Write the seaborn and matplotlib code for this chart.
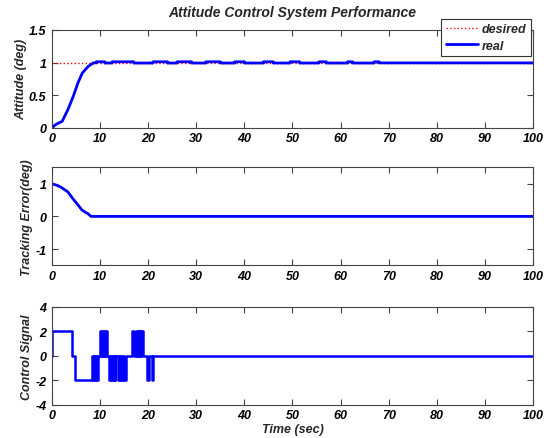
import matplotlib
matplotlib.use("Agg")
import matplotlib.pyplot as plt
import seaborn as sns
import pandas as pd
from matplotlib.ticker import FormatStrFormatter, MultipleLocator

# ---------------- data ----------------
desired_t = [0, 100]
desired_v = [1, 1]

att_t = [0, 0.7, 1.5, 2.1, 3.3, 4.4, 5.4, 6.3, 7.5, 8.6, 9.2, 9.2,
         11, 11, 12.5, 12.5, 17, 17, 21, 21, 24, 24, 26, 26, 29, 29,
         32, 32, 35, 35, 38, 38, 40, 40, 44, 44, 46, 46, 49.5, 49.5,
         51.5, 51.5, 55.5, 55.5, 57, 57, 61.5, 61.5, 62.5, 62.5, 67, 67,
         68, 68, 100]
att_v = [0, 0.05, 0.08, 0.1, 0.28, 0.48, 0.69, 0.84, 0.94, 0.995, 0.995, 1.012,
         1.012, 0.993, 0.993, 1.012, 1.012, 0.993, 0.993, 1.012, 1.012, 0.993, 0.993, 1.012, 1.012, 0.993,
         0.993, 1.012, 1.012, 0.993, 0.993, 1.012, 1.012, 0.993, 0.993, 1.012, 1.012, 0.993, 0.993, 1.012,
         1.012, 0.993, 0.993, 1.012, 1.012, 0.993, 0.993, 1.012, 1.012, 0.993, 0.993, 1.012,
         1.012, 0.995, 0.995]

err_t = [0, 0.8, 1.8, 3.3, 4.3, 5.4, 6.2, 6.9, 7.5, 8.1, 100]
err_v = [1.0, 0.96, 0.9, 0.75, 0.55, 0.35, 0.2, 0.13, 0.08, 0.0, 0.0]

ctrl_t = [0, 0.02, 4.15, 4.7,
          8.4, 8.6, 8.8, 9.0, 9.2, 9.4, 9.6,
          10.0, 10.2, 10.4, 10.6, 10.8, 11.0, 11.2, 11.4,
          11.9, 12.1, 12.3, 12.5, 12.7, 12.9, 13.0, 13.1,
          13.8, 14.0, 14.2, 14.4, 14.6, 14.8, 15.0, 15.4,
          16.6, 17.0,
          17.4, 17.6, 17.8, 18.0, 18.2, 18.4, 18.6, 18.85,
          19.8, 20.2, 20.7, 21.1, 100]
ctrl_v = [0, 2, 0, -2,
          0, -2, 0, -2, 0, -2, 0,
          2, 0, 2, 0, 2, 0, 2, 0,
          -2, 0, -2, 0, -2, 0, -2, 0,
          -2, 0, -2, 0, -2, 0, -2, 0,
          2, 0,
          2, 0, 2, 0, 2, 0, 2, 0,
          -2, 0, -2, 0, 0]

x_ticks = [0, 10, 20, 30, 40, 50, 60, 70, 80, 90, 100]

# ---------------- style ----------------
sns.set_style("ticks")
plt.rcParams["font.family"] = ["Liberation Sans", "DejaVu Sans"]
plt.rcParams["font.weight"] = "bold"
plt.rcParams["font.style"] = "italic"
plt.rcParams["font.size"] = 9
plt.rcParams["axes.labelweight"] = "bold"
plt.rcParams["axes.titleweight"] = "bold"
plt.rcParams["xtick.direction"] = "in"
plt.rcParams["ytick.direction"] = "in"
plt.rcParams["xtick.top"] = True
plt.rcParams["ytick.right"] = True
plt.rcParams["xtick.major.size"] = 4
plt.rcParams["ytick.major.size"] = 4
plt.rcParams["axes.linewidth"] = 0.8
plt.rcParams["axes.edgecolor"] = "#444444"
plt.rcParams["xtick.color"] = "#444444"
plt.rcParams["ytick.color"] = "#444444"
plt.rcParams["xtick.labelcolor"] = "black"
plt.rcParams["ytick.labelcolor"] = "black"

fig = plt.figure(figsize=(5.48, 4.39), dpi=100, facecolor="white")
L, W, H = 0.0949, 0.8777, 0.2235
ax1 = fig.add_axes([L, 0.7062, W, H])
ax2 = fig.add_axes([L, 0.3930, W, H])
ax3 = fig.add_axes([L, 0.0752, W, H])

blue = "#0000ff"
df_des = pd.DataFrame({"t": desired_t, "v": desired_v})
df_att = pd.DataFrame({"t": att_t, "v": att_v})
df_err = pd.DataFrame({"t": err_t, "v": err_v})
df_ctl = pd.DataFrame({"t": ctrl_t, "v": ctrl_v})

sns.lineplot(data=df_des, x="t", y="v", ax=ax1, color="red", linestyle=":",
             linewidth=1.0, estimator=None, sort=False, label="desired")
sns.lineplot(data=df_att, x="t", y="v", ax=ax1, color=blue, linewidth=2.0,
             estimator=None, sort=False, label="real")
sns.lineplot(data=df_err, x="t", y="v", ax=ax2, color=blue, linewidth=2.0,
             estimator=None, sort=False)
sns.lineplot(data=df_ctl, x="t", y="v", ax=ax3, color=blue, linewidth=1.8,
             estimator=None, sort=False, drawstyle="steps-post")

for ax in (ax1, ax2, ax3):
    ax.set_xlim(0, 100)
    ax.set_xticks(x_ticks)
    ax.set_xlabel("")
    ax.tick_params(axis="y", pad=4, labelsize=9, width=0.8)
    ax.tick_params(axis="x", pad=3, labelsize=9, width=0.8)
    for lab in ax.get_xticklabels() + ax.get_yticklabels():
        lab.set_fontweight("bold")
        lab.set_fontstyle("italic")
    ax.yaxis.set_major_formatter(FormatStrFormatter("%g"))

ax1.set_ylim(0, 1.5)
ax1.yaxis.set_major_locator(MultipleLocator(0.5))
ax2.set_ylim(-1.5, 1.5)
ax2.set_yticks([-1, 0, 1])
ax3.set_ylim(-4, 4)
ax3.set_yticks([-4, -2, 0, 2, 4])

ax1.set_ylabel("Attitude (deg)", fontsize=9, labelpad=1)
ax2.set_ylabel("Tracking Error(deg)", fontsize=9, labelpad=2)
ax3.set_ylabel("Control Signal", fontsize=9, labelpad=2)
ax3.set_xlabel("Time (sec)", fontsize=9, labelpad=1)
ax1.set_title("Attitude Control System Performance", fontsize=10, pad=10)

leg = ax1.legend(loc="upper right", bbox_to_anchor=(531 / 548, 1 - 20 / 439),
                 bbox_transform=fig.transFigure, borderaxespad=0, frameon=True,
                 fancybox=False, fontsize=9, handlelength=2.6, borderpad=0.35,
                 labelspacing=0.35, handletextpad=0.3)
leg.get_frame().set_edgecolor("#333333")
leg.get_frame().set_linewidth(0.8)
leg.get_frame().set_alpha(1)
for t in leg.get_texts():
    t.set_fontweight("bold")
    t.set_fontstyle("italic")

fig.savefig("out.png", dpi=100, facecolor="white")
